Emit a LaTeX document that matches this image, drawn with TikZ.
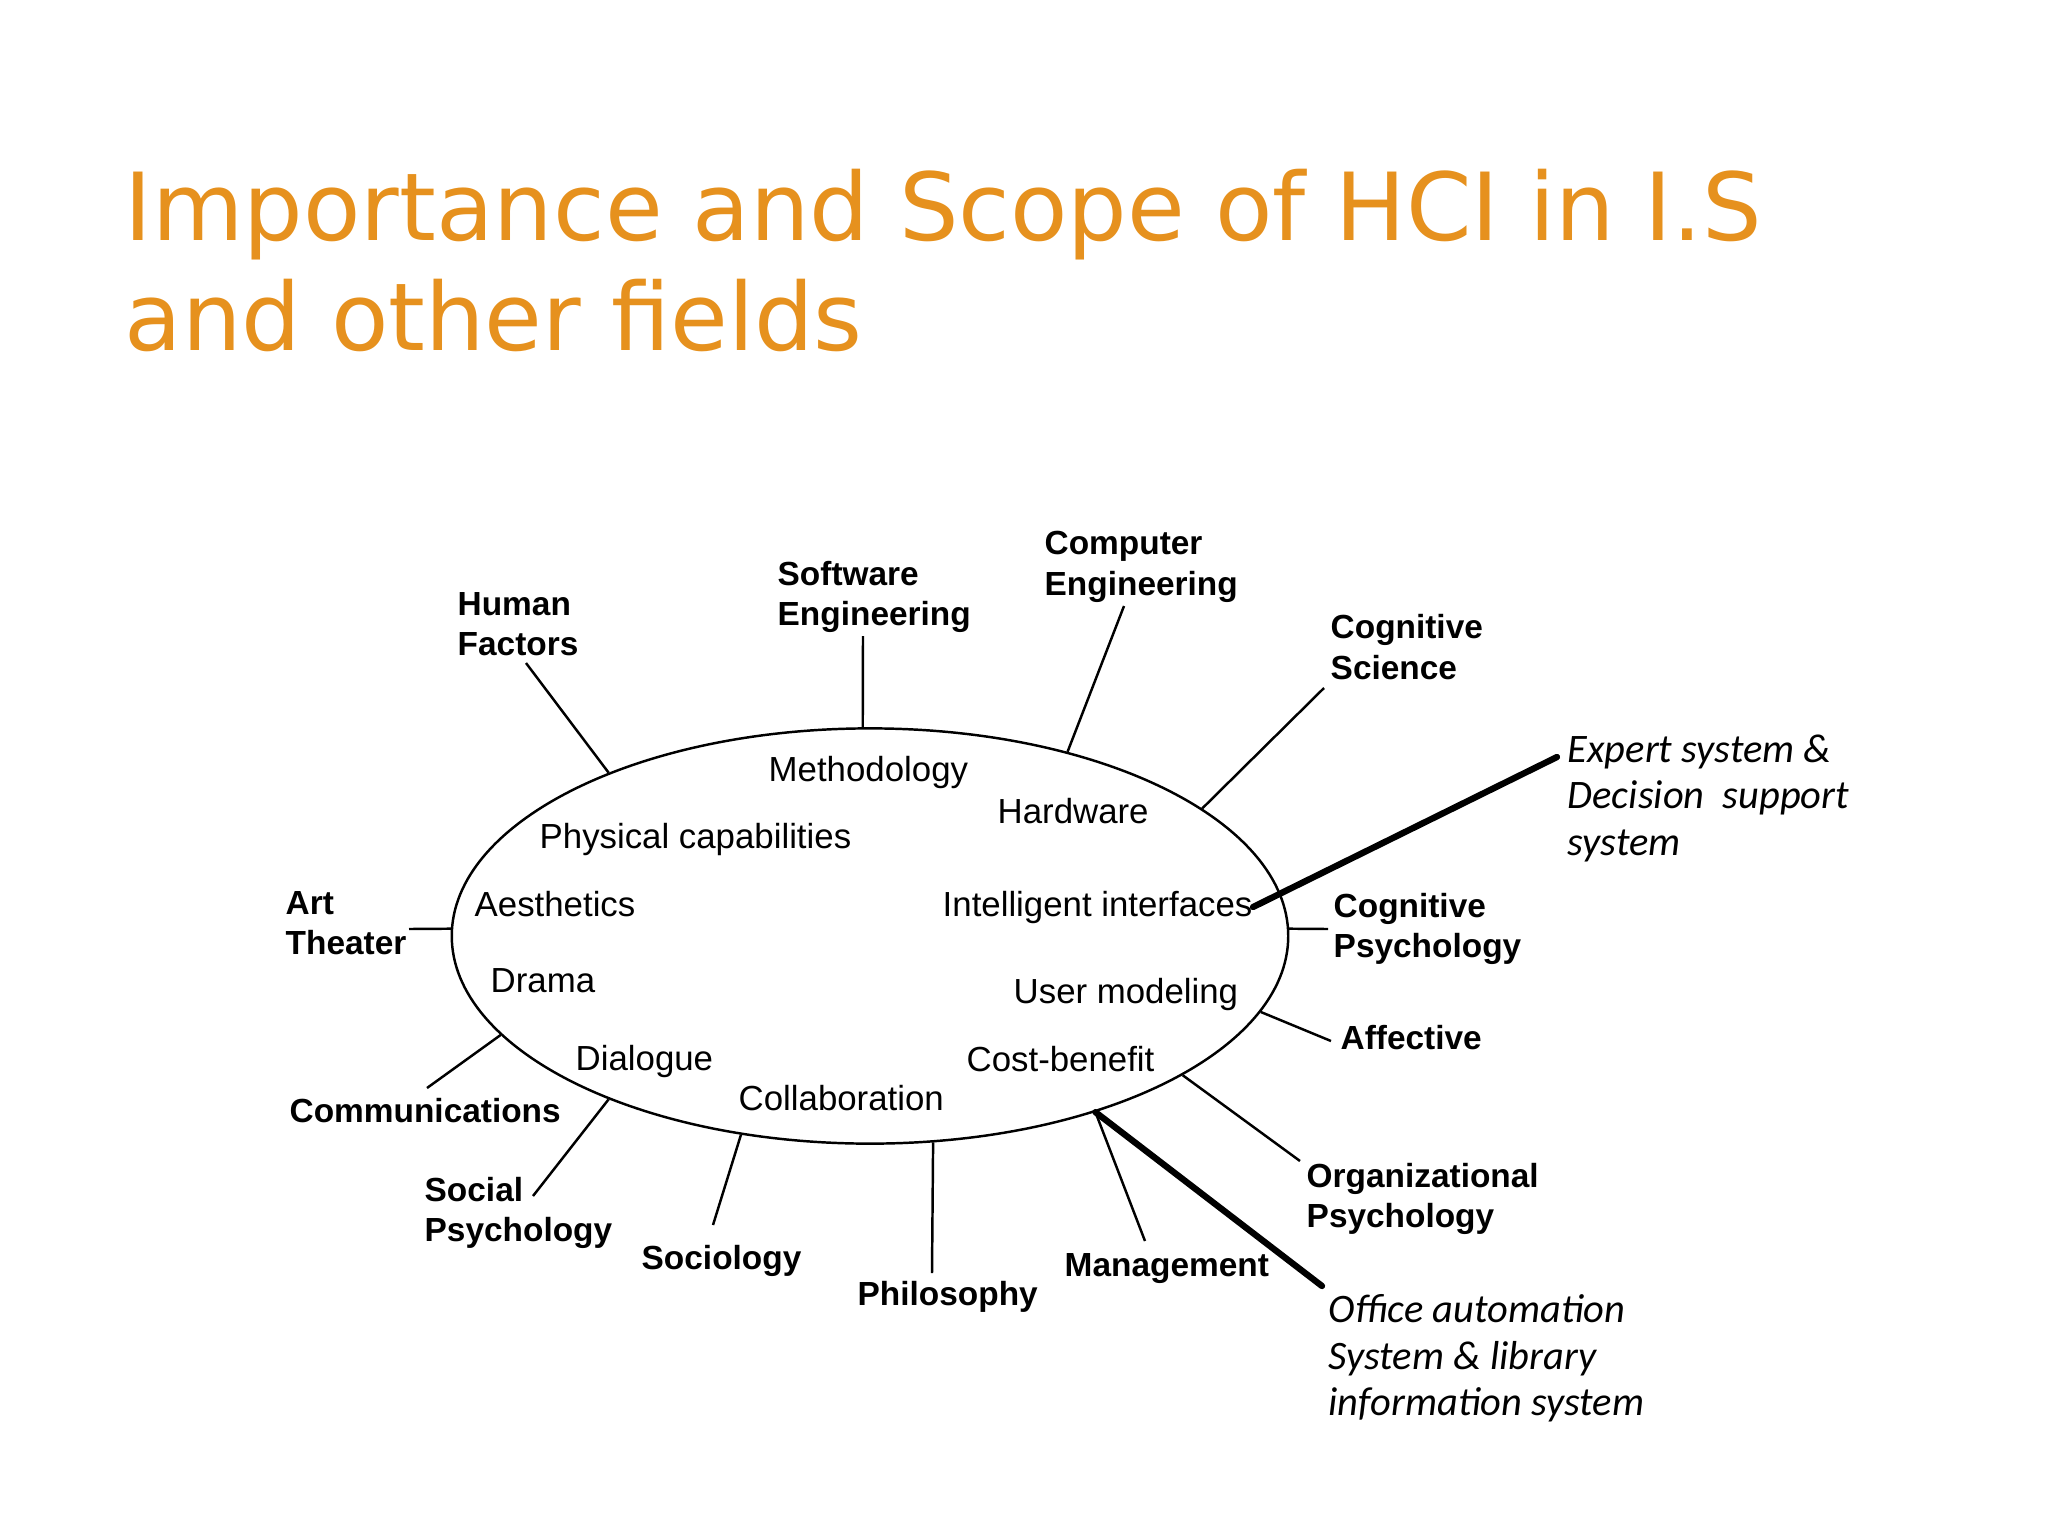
\documentclass[tikz,border=0pt]{standalone}
\usepackage{fontspec}
\setmainfont{Liberation Sans}
\newfontfamily\titlefont{DejaVu Sans}
\newfontfamily\notefont{Carlito}
\usepackage{tikz}
\usetikzlibrary{shapes.geometric,calc}
\definecolor{titleorange}{HTML}{E6911E}
\tikzset{
  outlab/.style={font=\fontsize{9.5}{11.5}\selectfont\bfseries, align=left, anchor=west, inner sep=0pt},
  inlab/.style={font=\fontsize{9.9}{11.5}\selectfont, anchor=west, inner sep=0pt},
  note/.style={font=\notefont\itshape\fontsize{11.5}{13.2}\selectfont, align=left, anchor=north west, inner sep=0pt},
  spoke/.style={line width=0.7pt},
  pointer/.style={line width=1.8pt, line cap=round},
}

\begin{document}
\begin{tikzpicture}[x=0.01cm, y=-0.01cm]
\useasboundingbox (0,0) rectangle (2048,1536);
\node[anchor=north west, inner sep=0pt, align=left, text=titleorange, font=\titlefont\fontsize{26.7}{31.3}\selectfont] (title) at (124,168) {Importance and Scope of HCI in I.S\\and other fields};

\node[draw, ellipse, spoke, minimum width=8.36cm, minimum height=4.15cm, inner sep=0pt] (hci) at (870,936) {};

% inside the ellipse
\foreach \n/\x/\y/\t in {meth/768/772/Methodology, phys/539/839/{Physical capabilities}, hard/997/811/Hardware,
  aest/474/904/Aesthetics, intf/942/907/{Intelligent interfaces}, drama/490/981/Drama, user/1013/994/{User modeling},
  dial/575/1061/Dialogue, cost/966/1059/Cost-benefit, coll/738/1098/Collaboration}
  \node[inlab] (\n) at (\x,\y) {\t};

% fields round it
\node[outlab] (hf) at (457,624) {Human\\Factors};
\node[outlab] (se) at (777,597) {Software\\Engineering};
\node[outlab] (ce) at (1044,567) {Computer\\Engineering};
\node[outlab] (cs) at (1330,647) {Cognitive\\Science};
\node[outlab] (cp) at (1333,929) {Cognitive\\Psychology};
\node[outlab] (af) at (1340,1038) {Affective};
\node[outlab] (op) at (1306,1199) {Organizational\\Psychology};
\node[outlab] (mg) at (1064,1269) {Management};
\node[outlab] (ph) at (857,1297) {Philosophy};
\node[outlab] (so) at (641,1261) {Sociology};
\node[outlab] (sp) at (424,1213) {Social\\Psychology};
\node[outlab] (co) at (289,1111) {Communications};
\node[outlab] (at) at (285,923) {Art\\Theater};

\node[note] (es) at (1567,734) {Expert system \&\\Decision\ \ support\\system};
\node[note] (oa) at (1328,1294) {Office automation\\System \& library\\information system};

\coordinate (hfEnd) at (526,663);
\coordinate (seEnd) at (863,636);
\coordinate (ceEnd) at (1124,606);
\coordinate (csEnd) at (1324,688);
\coordinate (cpEnd) at (1328,929);
\coordinate (afEnd) at (1331,1041);
\coordinate (opEnd) at (1300,1161);
\coordinate (mgEnd) at (1145,1241);
\coordinate (phEnd) at (932,1273);
\coordinate (soEnd) at (713,1225);
\coordinate (spEnd) at (533,1196);
\coordinate (coEnd) at (427,1088);
\coordinate (atEnd) at (409,929);
\coordinate (esEnd) at (1557,757);
\coordinate (oaEnd) at (1322,1286);

\foreach \a/\e in {148/hfEnd, 92/seEnd, 43/ceEnd, 21/csEnd, 1/cpEnd, -11/afEnd, -24/opEnd, -38/mgEnd,
  -73/phEnd, -123/soEnd, -148/spEnd, -165/coEnd, 179/atEnd}
  \draw[spoke] (hci.\a) -- (\e);

\draw[pointer] (intf.east) -- (esEnd);
\draw[pointer] (hci.-38) -- (oaEnd);
\end{tikzpicture}
\end{document}
